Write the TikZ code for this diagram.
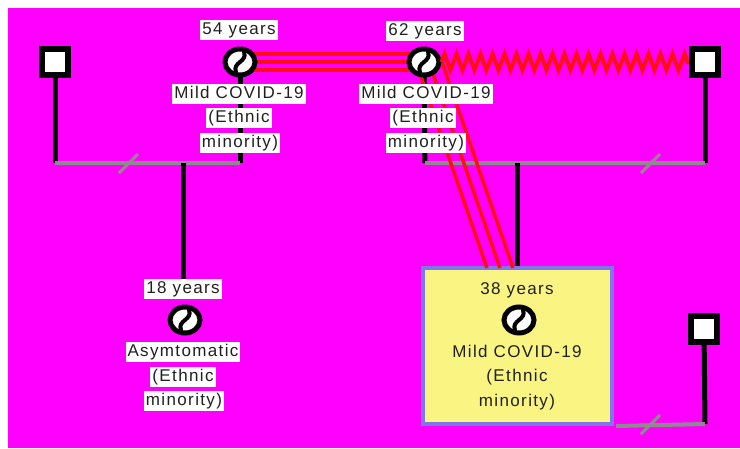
\documentclass[tikz,border=0pt]{standalone}
\usepackage{fontspec}
\setmainfont{Liberation Sans}
\newfontfamily\labfont[LetterSpace=8]{Liberation Sans}
\usetikzlibrary{shapes.geometric,decorations.pathmorphing,calc}
\definecolor{bgmag}{HTML}{FF00FF}
\definecolor{relred}{HTML}{FF1010}
\definecolor{lingray}{HTML}{8C8C8C}
\definecolor{boxyel}{HTML}{FAF582}
\definecolor{boxblue}{HTML}{7C78E8}
\definecolor{txt}{HTML}{202020}
\begin{document}
\begin{tikzpicture}[x=1pt,y=-1pt,
  male/.style={rectangle,draw=black,line width=6pt,fill=white,minimum size=26pt,inner sep=0pt},
  female/.style={ellipse,draw=black,line width=5pt,fill=white,minimum width=30pt,minimum height=26pt,inner sep=0pt,
    path picture={\draw[black,line width=4pt,line cap=round] ($(path picture bounding box.center)+(-4,10)$) .. controls ($(path picture bounding box.center)+(-8,0)$) and ($(path picture bounding box.center)+(8,0)$) .. ($(path picture bounding box.center)+(4,-10)$);}},
  lab/.style={fill=white,text=txt,inner xsep=2pt,inner ysep=2.5pt,text height=12pt,text depth=3.5pt,font=\labfont\fontsize{17}{20}\selectfont},
  boxlab/.style={text=txt,inner sep=0pt,text height=12pt,text depth=3.5pt,font=\labfont\fontsize{17}{20}\selectfont},
  vline/.style={black,line width=5pt},
  uline/.style={lingray,line width=4pt},
  rel/.style={relred,line width=3.5pt},
  ybox/.style={rectangle,draw=boxblue,line width=4pt,fill=boxyel,minimum width=189pt,minimum height=156pt,inner sep=0pt}]
\useasboundingbox (0,0) rectangle (740,448);
\fill[white] (0,0) rectangle (740,448);
\fill[bgmag] (8,8) rectangle (740,448);

% person positions
\coordinate (pm1) at (55,62);
\coordinate (pf54) at (240,62);
\coordinate (pf62) at (424,62);
\coordinate (pm2) at (705,62);
\coordinate (pf18) at (185,320);
\coordinate (pf38) at (519,320);
\coordinate (pm3) at (704,329);
% junctions
\coordinate (u1l) at (55,163);
\coordinate (u1r) at (240,163);
\coordinate (c1) at (183,163);
\coordinate (u2l) at (425,163);
\coordinate (u2r) at (705,163);
\coordinate (c2) at (517,163);
\coordinate (u3r) at (705,424);
% diagonal relationship ends
\coordinate (d1a) at (416,62); \coordinate (d1b) at (487,268);
\coordinate (d2a) at (429,62); \coordinate (d2b) at (500,268);
\coordinate (d3a) at (442,62); \coordinate (d3b) at (513,268);
\coordinate (s1a) at (119,173); \coordinate (s1b) at (138,154);
\coordinate (s2a) at (641,173); \coordinate (s2b) at (660,154);
\coordinate (s3a) at (641,434); \coordinate (s3b) at (660,415);

% yellow box
\node[ybox] (box) at (517.5,346) {};

% union lines
\draw[vline] (pm1) -- (u1l);
\draw[vline] (pf54) -- (u1r);
\draw[vline] (pf62) -- (u2l);
\draw[vline] (pm2) -- (u2r);
\draw[vline] (pm3) -- (u3r);
\draw[uline] (u1l) -- (u1r);
\draw[uline] (u2l) -- (u2r);
\draw[uline] ($(box.south east)+(2,0)$) -- (u3r);
\draw[uline,line width=3pt] (s1a) -- (s1b);
\draw[uline,line width=3pt] (s2a) -- (s2b);
\draw[uline,line width=3pt] (s3a) -- (s3b);
% children
\node[lab] (l18a) at (183,289) {18 years};
\draw[vline] (c1) -- (l18a.north);
\draw[vline] (c2) -- (c2 |- box.north);

% relationships
\draw[rel] ($(pf54)+(0,-8)$) -- ($(pf62)+(0,-8)$);
\draw[rel] (pf54) -- (pf62);
\draw[rel] ($(pf54)+(0,8)$) -- ($(pf62)+(0,8)$);
\draw[rel] (d1a) -- (d1b);
\draw[rel] (d2a) -- (d2b);
\draw[rel] (d3a) -- (d3b);

% persons
\node[male] (m1) at (pm1) {};
\node[male] (m2) at (pm2) {};
\node[male] (m3) at (pm3) {};
\node[female] (f54) at (pf54) {};
\node[female] (f62) at (pf62) {};
\node[female] (f18) at (pf18) {};
\node[female] (f38) at (pf38) {};
\draw[rel,line width=4pt,decorate,decoration={zigzag,segment length=12pt,amplitude=8pt}] (f62.east) -- (m2.west);

% labels
\node[lab] (l54a) at (239,30) {54 years};
\node[lab] (l54b) at (239,94) {Mild COVID-19};
\node[lab] (l54c) at (239,118) {(Ethnic};
\node[lab] (l54d) at (240,143) {minority)};
\node[lab] (l62a) at (425,31) {62 years};
\node[lab] (l62b) at (426,94) {Mild COVID-19};
\node[lab] (l62c) at (423,118) {(Ethnic};
\node[lab] (l62d) at (426,143) {minority)};
\node[lab] (l18b) at (183,352) {Asymtomatic};
\node[lab] (l18c) at (183,377) {(Ethnic};
\node[lab] (l18d) at (184,401) {minority)};
\node[boxlab] (l38a) at (517,290) {38 years};
\node[boxlab] (l38b) at (517,353) {Mild COVID-19};
\node[boxlab] (l38c) at (517,377) {(Ethnic};
\node[boxlab] (l38d) at (517,402) {minority)};
\end{tikzpicture}
\end{document}
